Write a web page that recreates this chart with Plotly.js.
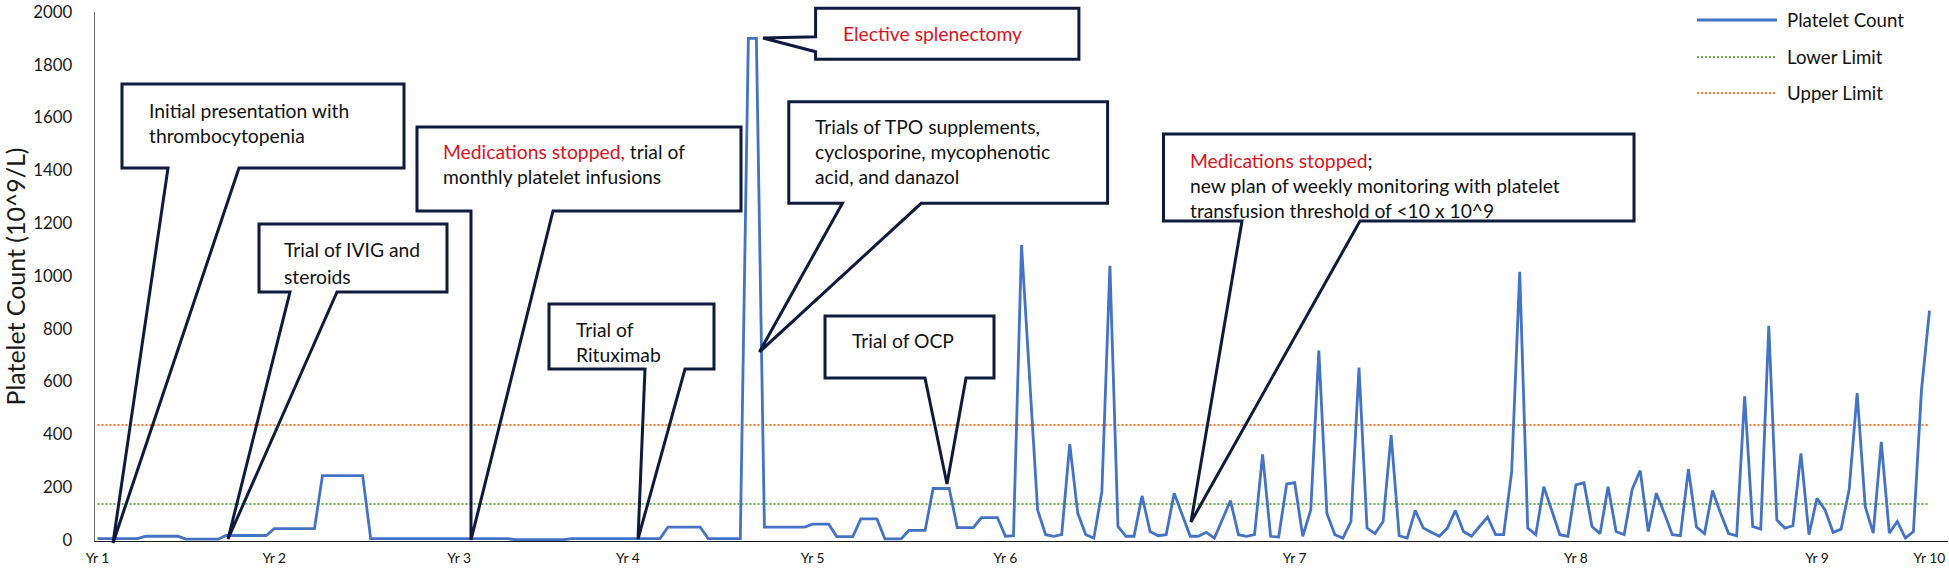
<!DOCTYPE html>
<html><head><meta charset="utf-8">
<script src="https://cdn.plot.ly/plotly-3.0.1.min.js"></script>
<style>html,body{margin:0;padding:0;background:#fff;}#chart{width:1949px;height:568px;}</style>
</head><body><div id="chart"></div>
<script>
// ---------------- DATA ----------------
const seriesName = 'Platelet Count';
const platelet = [
  4,4,4,4,4,4,13,13,13,13,
  13,2,2,2,2,2,16,16,16,16,
  16,16,42,42,42,42,42,42,243,243,
  243,243,243,243,4,4,4,4,4,4,
  4,4,4,4,4,4,4,4,4,4,
  4,4,0,0,0,0,0,0,0,4,
  4,4,4,4,4,4,4,4,4,4,
  4,48,48,48,48,48,4,4,4,4,
  4,1900,1900,48,48,48,48,48,48,59,
  59,59,12,12,12,79,79,79,3,3,
  3,35,35,35,194,194,194,46,46,46,
  84,84,84,13,15,1117,600,113,19,13,
  19,362,100,19,6,182,1038,50,13,13,
  166,31,15,19,176,94,13,13,28,6,
  75,148,19,13,19,323,13,10,211,216,
  13,113,717,100,19,6,69,652,44,23,
  69,396,15,6,111,44,28,13,44,111,
  31,13,50,86,19,19,258,1015,44,19,
  201,107,19,13,208,216,50,23,201,31,
  19,191,262,31,176,100,19,15,267,48,
  23,186,100,23,15,543,50,40,811,75,
  44,53,327,19,157,113,28,40,189,556,
  126,25,371,25,69,6,31,566,868
];
const lowerLimitName = 'Lower Limit';
const lowerLimit = 135;
const upperLimitName = 'Upper Limit';
const upperLimit = 435;
const tickIndex = [0, 22, 45, 66, 89, 113, 149, 184, 214, 228];
const tickLabels = ['Yr 1','Yr 2','Yr 3','Yr 4','Yr 5','Yr 6','Yr 7','Yr 8','Yr 9','Yr 10'];
const yTickValues = [0,200,400,600,800,1000,1200,1400,1600,1800,2000];
const yTitle = 'Platelet Count (10^9/L)';

// ---------------- STYLE / LAYOUT HELPERS ----------------
const FAM = 'Lato, "Open Sans", sans-serif';
const cv = document.createElement('canvas').getContext('2d');
function fit(text, target){ cv.font = '100px Lato'; return +(100*target/cv.measureText(text).width).toFixed(2); }
const calloutSize = +((fit('Initial presentation with',201) + fit('new plan of weekly monitoring with platelet',372))/2).toFixed(2);
const legendSize = fit('Platelet Count',117);
const yTickSize = fit('1800',39);
const xTickSize = fit('Yr 10',32);
const yTitleSize = fit(yTitle,258);

const PL = 95, PR = 1948, PT = 12, PB = 541;
const ZERO = 539.7;
const PX = x => (x - PL) / (PR - PL);
const PY = y => (PB - y) / (PB - PT);
const RED = s => '<span style="color:#d8141e">' + s + '</span>';
const BLUE = '#4472c4', GREEN = '#70ad47', ORANGE = '#ed7d31', NAVY = '#0e1b3d';

const callouts = [
  {box:[122,84,404,168], side:'bottom', base:[168,239], tip:[113,543]},
  {box:[259,224,447,292], side:'bottom', base:[290,337], tip:[228,539]},
  {box:[417,127,741,211], side:'bottom', base:[471,553], tip:[471,540]},
  {box:[549,304,714,369], side:'bottom', base:[645,685], tip:[638,539]},
  {box:[815.6,8.3,1078.9,59.3], side:'left', base:[36.7,51.7], tip:[763,38]},
  {box:[788.8,101.7,1107.6,203.3], side:'bottom', base:[842.4,921.2], tip:[759.4,352]},
  {box:[825,316,994,378], side:'bottom', base:[925,966], tip:[947,484]},
  {box:[1163.5,134,1634,221], side:'bottom', base:[1242,1360], tip:[1191,522]}
];
const notes = [
  [148,110,'Initial presentation with'], [148,135,'thrombocytopenia'],
  [283,250,'Trial of IVIG and'], [283,276,'steroids'],
  [441.7,151.7, RED('Medications stopped,')+' trial of'], [441.7,176.7,'monthly platelet infusions'],
  [574.5,329,'Trial of'], [574.5,354,'Rituximab'],
  [841.6,33, RED('Elective splenectomy')],
  [814,126.7,'Trials of TPO supplements,'], [814,151.7,'cyclosporine, mycophenotic'], [814,176.7,'acid, and danazol'],
  [851,341,'Trial of OCP'],
  [1189,160, RED('Medications stopped')+';'], [1189,185,'new plan of weekly monitoring with platelet'], [1189,210,'transfusion threshold of &lt;10 x 10^9']
];
const legendRows = [
  {name: seriesName, color: BLUE, dash: 'solid', width: 3, y: 20},
  {name: lowerLimitName, color: GREEN, dash: '2px,2px', width: 2, y: 57},
  {name: upperLimitName, color: ORANGE, dash: '2px,2px', width: 2, y: 93}
];
const legendLine = [1697, 1777], legendTextX = 1786;

const pt = (x,y) => PX(x).toFixed(5) + ',' + PY(y).toFixed(5);
function calloutPath(c){
  const [x0,y0,x1,y1] = c.box;
  let p = 'M' + pt(x0,y0) + ' L' + pt(x1,y0) + ' L' + pt(x1,y1);
  if (c.side === 'bottom') {
    p += ' L' + pt(c.base[1],y1) + ' L' + pt(c.tip[0],c.tip[1]) + ' L' + pt(c.base[0],y1) + ' L' + pt(x0,y1) + ' Z';
  } else {
    p += ' L' + pt(x0,y1) + ' L' + pt(x0,c.base[1]) + ' L' + pt(c.tip[0],c.tip[1]) + ' L' + pt(x0,c.base[0]) + ' Z';
  }
  return p;
}

// ---------------- TRACES ----------------
const idx = platelet.map((_, i) => i);
const first = idx[0], last = idx[idx.length - 1];
const traces = [
  {x:[first,last], y:[lowerLimit,lowerLimit], type:'scatter', mode:'lines', name:lowerLimitName,
   line:{color:GREEN, width:2, dash:'2px,2px'}, hoverinfo:'skip'},
  {x:[first,last], y:[upperLimit,upperLimit], type:'scatter', mode:'lines', name:upperLimitName,
   line:{color:ORANGE, width:2, dash:'2px,2px'}, hoverinfo:'skip'},
  {x:idx, y:platelet, type:'scatter', mode:'lines', name:seriesName,
   line:{color:BLUE, width:2.8}}
];

const shapes = callouts.map(c => ({type:'path', xref:'paper', yref:'paper', path: calloutPath(c),
  line:{color:NAVY, width:3}, fillcolor:'rgba(0,0,0,0)', layer:'above'}));
legendRows.forEach(r => shapes.push({type:'line', xref:'paper', yref:'paper',
  x0:PX(legendLine[0]), x1:PX(legendLine[1]), y0:PY(r.y), y1:PY(r.y),
  line:{color:r.color, width:r.width, dash:r.dash}}));

const annotations = notes.map(n => ({xref:'paper', yref:'paper', x:PX(n[0]), y:PY(n[1]),
  xanchor:'left', yanchor:'middle', text:n[2], showarrow:false, borderpad:0,
  font:{family:FAM, size:calloutSize, color:'#111'}}));
legendRows.forEach(r => annotations.push({xref:'paper', yref:'paper', x:PX(legendTextX), y:PY(r.y),
  xanchor:'left', yanchor:'middle', text:r.name, showarrow:false, borderpad:0,
  font:{family:FAM, size:legendSize, color:'#111'}}));

// x range: category i sits at 97.5 + 8.035*i px
const step = 8.035, x0px = 97.5;
const xr = [(PL - x0px)/step, (PR - x0px)/step];
const yPerPx = 2000/(ZERO - PT);
const yr = [-(PB - ZERO)*yPerPx, 2000];

const layout = {
  width:1949, height:568,
  margin:{l:PL, r:1949-PR, t:PT, b:568-PB, pad:0},
  paper_bgcolor:'#fff', plot_bgcolor:'#fff',
  showlegend:false,
  font:{family:FAM, color:'#111'},
  xaxis:{range:xr, tickmode:'array', tickvals:tickIndex, ticktext:tickLabels, showgrid:false, zeroline:false,
    showline:true, linecolor:'#1a1a1a', linewidth:1.3, ticks:'', ticklabelstandoff:4,
    tickfont:{family:FAM, size:xTickSize, color:'#111'}, fixedrange:true},
  yaxis:{range:yr, tickmode:'array', tickvals:yTickValues, ticklabeloverflow:'allow',
    showgrid:false, zeroline:false, showline:true, linecolor:'#6b6b6b', linewidth:1.3, ticks:'',
    ticklabelstandoff:18, tickfont:{family:FAM, size:yTickSize, color:'#1a1a1a'},
    title:{text:yTitle, standoff:8, font:{family:FAM, size:yTitleSize, color:'#1a1a1a'}}, fixedrange:true},
  shapes:shapes, annotations:annotations
};
Plotly.newPlot('chart', traces, layout, {displayModeBar:false, staticPlot:true});
</script></body></html>
